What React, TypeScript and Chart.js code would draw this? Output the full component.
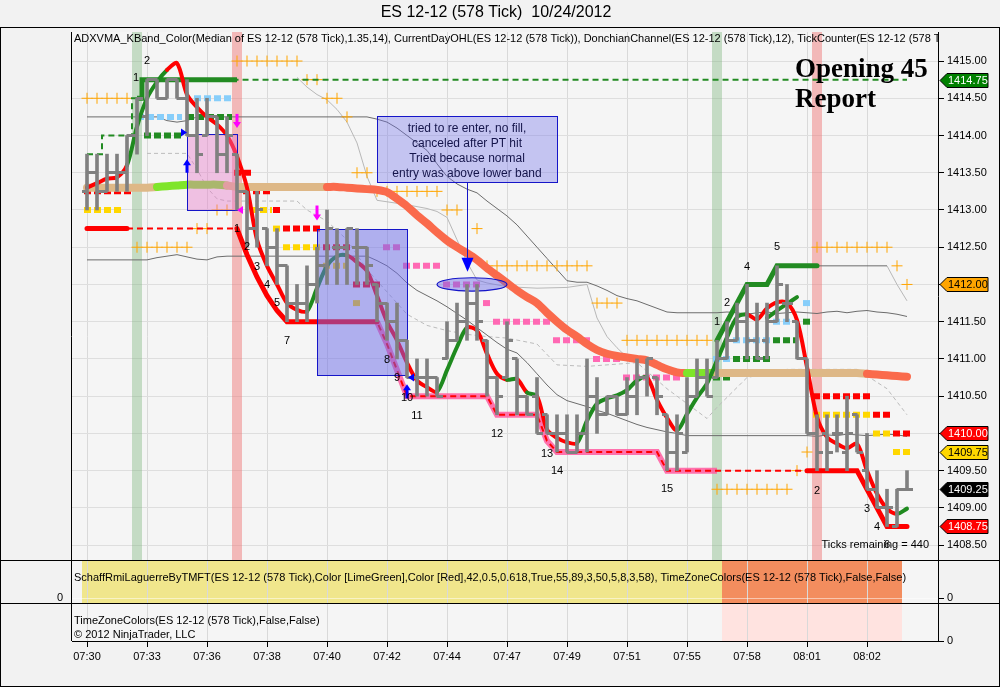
import React, { useEffect, useRef } from 'react';
import { Chart, registerables } from 'chart.js';

Chart.register(...registerables);

// ---------------- data ----------------
const TIME_LABELS = ['07:30', '07:33', '07:36', '07:38', '07:40', '07:42', '07:44', '07:47', '07:49', '07:51', '07:55', '07:58', '08:01', '08:02'];
const TIME_TICK_BARS = [0, 6, 12, 18, 24, 30, 36, 42, 48, 54, 60, 66, 72, 78];

const BAR_OPEN = [
  1413.25, 1413.5, 1413.25, 1413.5, 1413.5, 1414.0, 1414.25, 1414.75, 1414.5, 1414.75,
  1414.5, 1414.0, 1414.0, 1414.25, 1413.75, 1413.75, 1413.25, 1412.75, 1412.75, 1412.5,
  1412.25, 1411.75, 1411.75, 1412.0, 1412.25, 1412.5, 1412.5, 1412.5, 1412.5, 1412.0,
  1411.75, 1411.5, 1411.25, 1410.75, 1410.75, 1410.75, 1411.0, 1411.25, 1411.5, 1411.75,
  1411.25, 1410.75, 1410.75, 1411.0, 1410.5, 1410.5, 1410.25, 1410.0, 1410.0, 1409.75,
  1410.0, 1410.5, 1410.25, 1410.5, 1410.25, 1410.5, 1410.75, 1410.75, 1410.25, 1409.75,
  1409.75, 1410.5, 1410.75, 1410.75, 1411.0, 1411.25, 1411.5, 1411.25, 1411.25, 1411.5,
  1411.75, 1411.5, 1411.0, 1410.0, 1410.0, 1410.0, 1409.75, 1410.25, 1409.5, 1409.25,
  1409.0, 1408.75, 1409.25,
];
const BAR_HIGH = [
  1413.75, 1413.75, 1413.75, 1413.75, 1414.0, 1414.5, 1414.75, 1414.75, 1414.75, 1414.75,
  1414.75, 1414.5, 1414.5, 1414.25, 1414.25, 1413.75, 1413.25, 1413.25, 1412.75, 1412.75,
  1412.25, 1412.0, 1412.25, 1412.5, 1413.0, 1412.75, 1412.75, 1412.75, 1412.5, 1412.0,
  1411.75, 1411.75, 1411.25, 1411.0, 1411.0, 1410.75, 1411.5, 1411.75, 1412.0, 1412.0,
  1411.25, 1410.75, 1411.5, 1411.0, 1410.5, 1410.75, 1410.25, 1410.25, 1410.25, 1410.25,
  1411.0, 1410.75, 1410.5, 1410.5, 1410.75, 1411.0, 1411.0, 1410.75, 1410.25, 1410.25,
  1410.75, 1411.0, 1411.0, 1411.25, 1411.5, 1411.75, 1412.0, 1411.75, 1411.75, 1412.25,
  1412.0, 1411.5, 1411.0, 1410.25, 1410.25, 1410.25, 1410.5, 1410.25, 1410.0, 1409.5,
  1409.25, 1409.25, 1409.5,
];
const BAR_LOW = [
  1413.0, 1413.0, 1413.25, 1413.25, 1413.25, 1413.75, 1414.0, 1414.5, 1414.5, 1414.5,
  1414.0, 1413.5, 1414.0, 1413.5, 1413.5, 1413.0, 1412.5, 1412.5, 1412.25, 1412.0,
  1411.5, 1411.5, 1411.5, 1411.75, 1412.0, 1412.0, 1412.0, 1412.0, 1412.0, 1411.5,
  1411.25, 1411.0, 1410.75, 1410.5, 1410.5, 1410.5, 1411.0, 1411.25, 1411.25, 1411.25,
  1410.5, 1410.25, 1410.75, 1410.25, 1410.25, 1410.0, 1410.0, 1409.75, 1409.75, 1409.75,
  1409.75, 1410.0, 1410.25, 1410.25, 1410.25, 1410.25, 1410.5, 1410.25, 1409.5, 1409.5,
  1409.75, 1410.5, 1410.5, 1410.75, 1411.0, 1411.25, 1411.0, 1411.0, 1411.0, 1411.5,
  1411.5, 1411.0, 1410.0, 1409.5, 1409.5, 1409.75, 1409.5, 1409.75, 1409.25, 1409.0,
  1408.75, 1408.75, 1409.25,
];
const BAR_CLOSE = [
  1413.5, 1413.25, 1413.5, 1413.5, 1414.0, 1414.5, 1414.75, 1414.5, 1414.75, 1414.5,
  1414.0, 1413.75, 1414.25, 1413.75, 1414.0, 1413.25, 1412.75, 1413.0, 1412.5, 1412.25,
  1411.75, 1411.75, 1412.0, 1412.25, 1412.75, 1412.5, 1412.75, 1412.5, 1412.25, 1411.75,
  1411.5, 1411.25, 1410.75, 1410.75, 1410.75, 1410.5, 1411.25, 1411.5, 1411.75, 1411.5,
  1410.75, 1410.5, 1411.25, 1410.5, 1410.25, 1410.0, 1410.0, 1410.0, 1409.75, 1410.0,
  1410.5, 1410.25, 1410.5, 1410.25, 1410.5, 1410.75, 1411.0, 1410.5, 1409.75, 1410.0,
  1410.5, 1410.75, 1410.5, 1411.0, 1411.25, 1411.5, 1411.25, 1411.0, 1411.5, 1412.0,
  1411.75, 1411.0, 1410.0, 1409.75, 1409.75, 1410.0, 1410.0, 1409.75, 1409.25, 1409.0,
  1409.0, 1409.25, 1409.25,
];

// ADXVMA line and its direction runs (u = up/green, d = down/red)
const ADX_LINE = [
  1413.30, 1413.36, 1413.42, 1413.44, 1413.60, 1414.12, 1414.50, 1414.72, 1414.88, 1414.97,
  1414.55, 1414.38, 1414.25, 1414.15, 1414.00, 1413.72, 1413.30, 1412.60, 1412.25, 1412.00,
  1411.75, 1411.66, 1411.64, 1411.95, 1412.25, 1412.38, 1412.39, 1412.30, 1412.18, 1411.85,
  1411.50, 1411.25, 1410.95, 1410.71, 1410.62, 1410.56, 1410.85, 1411.16, 1411.42, 1411.38,
  1411.07, 1410.80, 1410.72, 1410.73, 1410.55, 1410.50, 1410.05, 1409.94, 1409.88, 1409.87,
  1410.17, 1410.40, 1410.47, 1410.51, 1410.58, 1410.71, 1410.75, 1410.45, 1410.21, 1410.04,
  1410.26, 1410.48, 1410.67, 1410.98, 1411.29, 1411.56, 1411.60, 1411.53, 1411.68, 1411.76,
  1411.75, 1411.52, 1410.89, 1410.22, 1409.95, 1409.86, 1409.80, 1409.86, 1409.50, 1409.19,
  1408.99, 1408.92, 1408.99,
];
const ADX_DIR_RUNS: [string, number][] = [
  ['d', 4], ['u', 4], ['d', 14], ['u', 4], ['d', 9], ['u', 3], ['d', 4], ['u', 1], ['d', 1], ['u', 1],
  ['d', 4], ['u', 7], ['d', 3], ['u', 7], ['d', 15], ['u', 2],
];
const ADX2_BARS = [68, 69, 70, 71];
const ADX2_LINE = [1411.55, 1411.65, 1411.74, 1411.83];

// slow moving average and its state runs (t = flat, g = rising, s = falling)
const MA_LINE = [
  1413.30, 1413.30, 1413.30, 1413.30, 1413.30, 1413.30, 1413.30, 1413.31, 1413.32, 1413.33,
  1413.34, 1413.34, 1413.34, 1413.34, 1413.33, 1413.31, 1413.31, 1413.31, 1413.31, 1413.31,
  1413.31, 1413.31, 1413.31, 1413.31, 1413.31, 1413.31, 1413.30, 1413.29, 1413.28, 1413.27,
  1413.24, 1413.15, 1413.05, 1412.93, 1412.82, 1412.70, 1412.59, 1412.50, 1412.42, 1412.33,
  1412.22, 1412.12, 1412.02, 1411.92, 1411.83, 1411.75, 1411.62, 1411.50, 1411.39, 1411.30,
  1411.20, 1411.12, 1411.07, 1411.04, 1411.02, 1411.00, 1410.98, 1410.92, 1410.86, 1410.82,
  1410.81, 1410.81, 1410.81, 1410.81, 1410.81, 1410.81, 1410.81, 1410.81, 1410.81, 1410.81,
  1410.81, 1410.81, 1410.81, 1410.81, 1410.81, 1410.81, 1410.81, 1410.81, 1410.80, 1410.79,
  1410.78, 1410.77, 1410.76,
];
const MA_STATE_RUNS: [string, number][] = [['t', 7], ['g', 7], ['t', 10], ['s', 36], ['g', 3], ['t', 15], ['s', 5]];

// Donchian channel
const DON_UPPER = [
  1414.25, 1414.25, 1414.25, 1414.25, 1414.25, 1414.25, 1414.25, 1414.25, 1414.20, 1414.18,
  1414.20, 1414.25, 1414.25, 1414.25, 1414.25, 1414.25, 1414.25, 1414.25, 1414.25, 1414.25,
  1414.25, 1414.25, 1414.25, 1414.25, 1414.25, 1414.25, 1414.25, 1414.25, 1414.25, 1414.22,
  1414.18, 1414.10, 1414.00, 1413.90, 1413.80, 1413.62, 1413.45, 1413.35, 1413.28, 1413.23,
  1413.12, 1413.02, 1412.92, 1412.80, 1412.65, 1412.50, 1412.35, 1412.20, 1412.05, 1412.03,
  1412.03, 1411.98, 1411.92, 1411.85, 1411.81, 1411.78, 1411.73, 1411.68, 1411.63, 1411.62,
  1411.62, 1411.62, 1411.62, 1411.62, 1411.63, 1411.62, 1411.60, 1411.62, 1411.63, 1411.61,
  1411.62, 1411.63, 1411.62, 1411.61, 1411.63, 1411.64, 1411.62, 1411.64, 1411.65, 1411.63,
  1411.62, 1411.60, 1411.57,
];
const DON_LOWER = [
  1412.33, 1412.33, 1412.33, 1412.33, 1412.33, 1412.33, 1412.33, 1412.36, 1412.38, 1412.40,
  1412.37, 1412.34, 1412.33, 1412.37, 1412.38, 1412.38, 1412.38, 1412.38, 1412.38, 1412.38,
  1412.38, 1412.38, 1412.38, 1412.38, 1412.38, 1412.38, 1412.38, 1412.38, 1412.38, 1412.32,
  1412.25, 1412.15, 1412.02, 1411.92, 1411.85, 1411.78, 1411.70, 1411.61, 1411.52, 1411.42,
  1411.32, 1411.22, 1411.13, 1411.08, 1410.95, 1410.80, 1410.65, 1410.52, 1410.44, 1410.40,
  1410.36, 1410.31, 1410.27, 1410.22, 1410.17, 1410.12, 1410.08, 1410.05, 1410.02, 1410.00,
  1409.97, 1409.97, 1409.97, 1409.97, 1409.97, 1409.97, 1409.97, 1409.97, 1409.97, 1409.97,
  1409.97, 1409.97, 1409.97, 1409.96, 1409.98, 1409.97, 1409.99, 1409.98, 1409.97, 1409.98,
  1409.99, 1409.98, 1409.96,
];
const DON_UPPER2_BARS = [72.5, 73, 74, 75, 76, 77, 78, 79, 80];
const DON_UPPER2 = [1412.25, 1412.25, 1412.25, 1412.25, 1412.25, 1412.25, 1412.25, 1412.25, 1412.25];

// Keltner-style bands (light grey)
const KBAND_UPPER_BARS = [21, 22, 23, 24, 25, 26, 27, 28, 29, 30, 32, 34, 35, 36, 37, 38, 39, 40, 42, 45, 48, 50, 51, 52, 53, 54];
const KBAND_UPPER = [1414.78, 1414.65, 1414.55, 1414.48, 1414.35, 1414.18, 1413.90, 1413.45, 1413.13, 1413.11, 1413.07, 1413.02, 1412.98, 1412.90, 1412.60, 1412.30, 1412.06, 1412.02, 1411.97, 1411.95, 1411.96, 1412.00, 1411.55, 1411.30, 1411.15, 1411.02];
const KBAND_LOWER_BARS = [6, 10, 11, 12, 13, 14, 21, 22, 24, 26, 28, 30, 32, 34, 36, 38, 40, 42, 45, 47, 50, 55, 58, 61, 62, 63, 66, 70, 77, 80, 82];
const KBAND_LOWER = [1413.76, 1413.76, 1413.55, 1413.30, 1413.15, 1413.12, 1413.12, 1413.00, 1412.85, 1412.60, 1412.20, 1411.90, 1411.60, 1411.45, 1411.38, 1411.33, 1411.30, 1411.28, 1411.20, 1410.92, 1410.90, 1410.95, 1410.60, 1410.30, 1410.20, 1410.35, 1410.75, 1410.86, 1410.86, 1410.60, 1410.25];
const KBAND_UPPER2_BARS = [80, 81, 82];
const KBAND_UPPER2 = [1412.25, 1412.00, 1411.78];

// current day high / low
const DAY_HIGH = [
  1413.75, 1413.75, 1414.0, 1414.0, 1414.0, 1414.5, 1414.75, 1414.75, 1414.75, 1414.75,
  1414.75, 1414.75, 1414.75, 1414.75, 1414.75, 1414.75, 1414.75, 1414.75, 1414.75, 1414.75,
  1414.75, 1414.75, 1414.75, 1414.75, 1414.75, 1414.75, 1414.75, 1414.75, 1414.75, 1414.75,
  1414.75, 1414.75, 1414.75, 1414.75, 1414.75, 1414.75, 1414.75, 1414.75, 1414.75, 1414.75,
  1414.75, 1414.75, 1414.75, 1414.75, 1414.75, 1414.75, 1414.75, 1414.75, 1414.75, 1414.75,
  1414.75, 1414.75, 1414.75, 1414.75, 1414.75, 1414.75, 1414.75, 1414.75, 1414.75, 1414.75,
  1414.75, 1414.75, 1414.75, 1414.75, 1414.75, 1414.75, 1414.75, 1414.75, 1414.75, 1414.75,
  1414.75, 1414.75, 1414.75, 1414.75, 1414.75, 1414.75, 1414.75, 1414.75, 1414.75, 1414.75,
  1414.75, 1414.75, 1414.75,
];
const DAY_LOW = [
  1412.75, 1412.75, 1412.75, 1412.75, 1412.75, 1412.75, 1412.75, 1412.75, 1412.75, 1412.75,
  1412.75, 1412.75, 1412.75, 1412.75, 1412.75, 1412.75, 1412.40, 1412.10, 1411.85, 1411.65,
  1411.5, 1411.5, 1411.5, 1411.5, 1411.5, 1411.5, 1411.5, 1411.5, 1411.5, 1411.5,
  1411.20, 1410.85, 1410.5, 1410.5, 1410.5, 1410.5, 1410.5, 1410.5, 1410.5, 1410.5,
  1410.5, 1410.25, 1410.25, 1410.25, 1410.25, 1410.25, 1409.90, 1409.75, 1409.75, 1409.75,
  1409.75, 1409.75, 1409.75, 1409.75, 1409.75, 1409.75, 1409.75, 1409.75, 1409.5, 1409.5,
  1409.5, 1409.5, 1409.5, 1409.5, 1409.5, 1409.5, 1409.5, 1409.5, 1409.5, 1409.5,
  1409.5, 1409.5, 1409.5, 1409.5, 1409.5, 1409.5, 1409.5, 1409.5, 1409.25, 1409.0,
  1408.75, 1408.75, 1408.75,
];
const SESSION_HIGH_BARS = [63, 64, 65, 66, 67, 68, 69, 70, 71, 72, 73];
const SESSION_HIGH = [1411.25, 1411.5, 1411.75, 1412.0, 1412.0, 1412.0, 1412.25, 1412.25, 1412.25, 1412.25, 1412.25];

// dashed level bars: price, from bar, to bar, kind
const DASH_PRICE = [1414.5, 1414.25, 1414.25, 1414.0, 1413.5, 1413.25, 1413.25, 1413.0, 1413.0, 1413.0, 1412.75, 1412.75, 1412.5, 1412.5, 1412.25, 1412.0, 1411.75, 1412.5, 1412.25, 1412.0, 1411.75, 1411.5, 1411.25, 1411.0, 1410.75, 1410.75, 1411.0, 1411.0, 1411.25, 1411.25, 1411.5, 1411.5, 1411.75, 1410.5, 1410.25, 1410.25, 1410.0, 1410.0, 1409.75];
const DASH_FROM = [10.7, 5.0, 10.0, 5.7, 14.7, -0.3, 15.6, -0.3, 16.3, 18.6, 18.6, 19.6, 19.6, 23.6, 23.6, 26.6, 26.6, 29.6, 31.6, 35.6, 39.6, 40.6, 46.6, 50.6, 53.6, 62.6, 62.6, 64.6, 64.6, 68.6, 68.6, 71.6, 71.6, 72.6, 72.6, 78.6, 78.6, 80.6, 80.6];
const DASH_TO = [14.5, 9.5, 14.5, 9.5, 16.5, 4.5, 18.5, 3.5, 18.5, 19.5, 19.3, 23.5, 23.5, 26.5, 26.0, 29.5, 27.5, 31.5, 35.5, 39.5, 40.5, 46.3, 50.5, 53.5, 59.6, 64.5, 64.5, 68.5, 68.5, 71.1, 70.3, 72.5, 72.5, 78.5, 78.5, 80.5, 80.5, 82.5, 82.5];
const DASH_KIND = ['B', 'B', 'G', 'G', 'R', 'R', 'R', 'Y', 'Y', 'R', 'Y', 'R', 'Y', 'R', 'Y', 'R', 'Y', 'P', 'P', 'P', 'P', 'P', 'P', 'P', 'P', 'G', 'B', 'G', 'B', 'G', 'B', 'G', 'B', 'R', 'Y', 'R', 'Y', 'R', 'Y'];

// orange target crosses: price row, first bar, last bar
const CROSS_PRICE = [1414.5, 1412.5, 1412.75, 1413.0, 1415.0, 1414.75, 1414.5, 1414.25, 1413.5, 1413.25, 1413.0, 1412.75, 1412.25, 1411.75, 1411.25, 1409.25, 1409.5, 1409.75, 1412.5, 1412.25, 1412.0];
const CROSS_FROM = [0, 5, 11, 13, 15, 22, 24, 26, 27, 29, 36, 39, 40, 51, 54, 63, 71, 72, 73, 81, 82];
const CROSS_TO = [4, 10, 12, 14, 21, 23, 25, 26, 28, 35, 37, 39, 50, 53, 62, 70, 71, 72, 80, 81, 82];

// swing count labels
const LABEL_BARS = [6, 4.9, 15, 16, 17, 18, 19, 20, 30, 31, 32, 33, 41, 46, 47, 58, 63, 64, 66, 69, 73, 78, 79, 80];
const LABEL_PRICES = [1415.0, 1414.77, 1412.75, 1412.5, 1412.24, 1411.99, 1411.75, 1411.24, 1410.99, 1410.74, 1410.48, 1410.24, 1409.99, 1409.73, 1409.49, 1409.25, 1411.49, 1411.75, 1412.24, 1412.5, 1409.23, 1408.99, 1408.74, 1408.5];
const LABEL_TEXTS = ['2', '1', '1', '2', '3', '4', '5', '7', '8', '9', '10', '11', '12', '13', '14', '15', '1', '2', '4', '5', '2', '3', '4', '6'];

// price tags on the right axis
const TAG_PRICES = [1414.75, 1412.0, 1410.0, 1409.75, 1409.25, 1408.75];
const TAG_KIND = ['green', 'orange', 'red', 'gold', 'black', 'red'];

// time-zone shading (bar centre) and session split bars for lower panels
const ZONE_BARS = [5, 15, 63, 73];
const ZONE_KIND = ['open', 'close', 'open', 'close'];
const SESSION_SPLITS = [-0.5, 63.5, 81.5];

// drawn objects: [from bar, to bar, top price, bottom price]
const PINK_BOX = [10, 15, 1414.02, 1413.0];
const BLUE_BOX = [23, 32, 1412.74, 1410.78];
const NOTE_BOX = [29, 47, 1414.26, 1413.37];
const NOTE_LINES = ['tried to re enter, no fill,', 'canceled after PT hit', 'Tried because normal', 'entry was above lower band'];
const NOTE_ARROW = [38, 1413.37, 1412.17];
const ELLIPSE = [38.5, 1412.0, 3.5, 0.09];

// entry / exit arrows
const ARROW_BARS = [10, 32, 15, 23];
const ARROW_FROM = [1413.5, 1410.47, 1414.29, 1413.06];
const ARROW_TO = [1413.68, 1410.66, 1414.1, 1412.86];
const ARROW_KIND = ['blue', 'blue', 'magenta', 'magenta'];
const MARK_BARS = [9.7, 32.4, 15.3];
const MARK_PRICES = [1414.04, 1410.75, 1413.0];
const MARK_DIR = ['right', 'left', 'left'];
const MARK_KIND = ['blue', 'blue', 'magenta'];

const PRICE_MIN = 1408.30;
const PRICE_MAX = 1415.39;

// ---------------- styles ----------------
const SANS = "'Liberation Sans', Arial, sans-serif";
const SERIF = "'Liberation Serif', 'Times New Roman', serif";
const DASH_COLORS: Record<string, string> = { B: '#87cefa', G: '#228b22', R: '#ff0000', Y: '#ffd700', P: '#ff69b4' };
const MA_COLORS: Record<string, string> = { t: '#deb887', g: '#7fe52a', s: '#fa6a4c' };
const TAG_COLORS: Record<string, [string, string]> = {
  green: ['#008000', '#ffffff'], orange: ['#ffa500', '#000000'], red: ['#ff0000', '#ffffff'],
  gold: ['#ffd700', '#000000'], black: ['#000000', '#ffffff'],
};
const MARK_COLORS: Record<string, string> = { blue: '#0000ff', magenta: '#ff00ff' };

function expandRuns(list: [string, number][]): string[] {
  const out: string[] = [];
  list.forEach(([c, n]) => { for (let k = 0; k < n; k++) out.push(c); });
  return out;
}
const ADX_DIR = expandRuns(ADX_DIR_RUNS);
const MA_STATE = expandRuns(MA_STATE_RUNS);

function pick(values: number[], ranges: number[][]) {
  return values.map((v, i) => ({ x: i, y: ranges.some(([a, b]) => i >= a && i <= b) ? v : null }));
}
function series(values: number[]) {
  return values.map((v, i) => ({ x: i, y: v }));
}
function pairs(bars: number[], values: number[]) {
  return bars.map((b, k) => ({ x: b, y: values[k] }));
}
function tickImage(side: 'left' | 'right') {
  const c = document.createElement('canvas');
  c.width = 11; c.height = 3;
  const g = c.getContext('2d')!;
  g.fillStyle = '#808080';
  if (side === 'left') g.fillRect(0, 0, 6, 3); else g.fillRect(5, 0, 6, 3);
  return c;
}
const isHalf = (v: number) => Math.abs(v * 2 - Math.round(v * 2)) < 1e-6;

function buildDatasets() {
  const ds: any[] = [];
  const line = (extra: any) => ({
    type: 'line', pointRadius: 0, borderWidth: 1, fill: false, tension: 0, spanGaps: false,
    xAxisID: 'x', yAxisID: 'y', ...extra,
  });
  ds.push(line({ label: 'kband-upper', data: pairs(KBAND_UPPER_BARS, KBAND_UPPER), borderColor: '#b8b8b8', order: 100 }));
  ds.push(line({ label: 'kband-upper2', data: pairs(KBAND_UPPER2_BARS, KBAND_UPPER2), borderColor: '#b8b8b8', order: 100 }));
  ds.push(line({ label: 'kband-lower', data: pairs(KBAND_LOWER_BARS, KBAND_LOWER), borderColor: '#bcbcbc', borderDash: [4, 3], order: 100 }));
  ds.push(line({ label: 'donchian-upper', data: series(DON_UPPER), borderColor: '#6c6c6c', order: 95 }));
  ds.push(line({ label: 'donchian-lower', data: series(DON_LOWER), borderColor: '#6c6c6c', order: 95 }));
  ds.push(line({ label: 'donchian-upper2', data: pairs(DON_UPPER2_BARS, DON_UPPER2), borderColor: '#6c6c6c', order: 95 }));

  const crossPts: any[] = [];
  CROSS_PRICE.forEach((p, r) => { for (let b = CROSS_FROM[r]; b <= CROSS_TO[r]; b++) crossPts.push({ x: b, y: p }); });
  ds.push(line({
    label: 'targets', data: crossPts, showLine: false, pointStyle: 'cross', pointRadius: 5.5,
    pointBorderWidth: 1, pointBorderColor: '#ffa500', pointBackgroundColor: '#ffa500', order: 90,
  }));

  DASH_PRICE.forEach((p, k) => {
    ds.push(line({
      label: 'level', data: [{ x: DASH_FROM[k], y: p }, { x: DASH_TO[k], y: p }],
      borderColor: DASH_COLORS[DASH_KIND[k]], borderWidth: 6, borderDash: [7, 3], borderCapStyle: 'butt', order: 85,
    }));
  });

  ds.push(line({
    label: 'ma', data: series(MA_LINE), borderWidth: 8, borderCapStyle: 'round', borderJoinStyle: 'round',
    tension: 0.3, borderColor: MA_COLORS.t, segment: { borderColor: (c: any) => MA_COLORS[MA_STATE[c.p0DataIndex]] }, order: 80,
  }));

  ds.push(line({ label: 'day-high-dash', data: series(DAY_HIGH), stepped: 'middle', borderColor: '#228b22', borderWidth: 2, borderDash: [6, 4], order: 75 }));
  ds.push(line({ label: 'day-high', data: pick(DAY_HIGH, [[5, 15]]), stepped: 'middle', borderColor: '#228b22', borderWidth: 5, order: 74 }));
  ds.push(line({ label: 'day-low-pink', data: pick(DAY_LOW, [[29, 63]]), borderColor: 'rgba(255,90,160,0.85)', borderWidth: 6, order: 73 }));
  ds.push(line({ label: 'day-low-dash', data: series(DAY_LOW), borderColor: '#ff0000', borderWidth: 2, borderDash: [6, 4], order: 72 }));
  ds.push(line({ label: 'day-low', data: pick(DAY_LOW, [[0, 4], [15, 29], [72, 82]]), borderColor: '#ff0000', borderWidth: 5, borderCapStyle: 'round', order: 71 }));
  ds.push(line({ label: 'session-high', data: pairs(SESSION_HIGH_BARS, SESSION_HIGH), borderColor: '#228b22', borderWidth: 5, borderCapStyle: 'round', order: 70 }));

  ds.push(line({
    label: 'adxvma', data: series(ADX_LINE), borderWidth: 4, borderCapStyle: 'round', borderJoinStyle: 'round',
    tension: 0.3, borderColor: '#ff0000',
    segment: { borderColor: (c: any) => (ADX_DIR[c.p0DataIndex] === 'u' ? '#1f8a1f' : '#ff0000') }, order: 65,
  }));
  ds.push(line({ label: 'adxvma-up', data: pairs(ADX2_BARS, ADX2_LINE), borderWidth: 4, borderCapStyle: 'round', tension: 0.3, borderColor: '#1f8a1f', order: 64 }));

  ds.push({
    type: 'bar', label: 'ohlc', xAxisID: 'x', yAxisID: 'y',
    data: BAR_HIGH.map((h, i) => ({ x: i, y: [BAR_LOW[i], h] })),
    backgroundColor: '#808080', borderWidth: 0, barThickness: 3, grouped: false, order: 10,
  });
  ds.push(line({ label: 'open', data: series(BAR_OPEN), showLine: false, pointRadius: 3, pointStyle: tickImage('left'), order: 9 }));
  ds.push(line({ label: 'close', data: series(BAR_CLOSE), showLine: false, pointRadius: 3, pointStyle: tickImage('right'), order: 8 }));
  return ds;
}

function drawObjects(chart: any) {
  const { ctx } = chart;
  const x = chart.scales.x;
  const y = chart.scales.y;
  const rect = (b: number[], fill: string) => {
    const x0 = x.getPixelForValue(b[0]); const x1 = x.getPixelForValue(b[1]);
    const y0 = y.getPixelForValue(b[2]); const y1 = y.getPixelForValue(b[3]);
    ctx.fillStyle = fill;
    ctx.fillRect(x0, y0, x1 - x0, y1 - y0);
    ctx.strokeStyle = '#1515c8'; ctx.lineWidth = 1;
    ctx.strokeRect(Math.round(x0) + 0.5, Math.round(y0) + 0.5, Math.round(x1 - x0), Math.round(y1 - y0));
    return [x0, y0, x1, y1];
  };
  ctx.save();
  rect(PINK_BOX, 'rgba(232,120,200,0.42)');
  rect(BLUE_BOX, 'rgba(105,105,232,0.5)');
  // ellipse
  const cx = x.getPixelForValue(ELLIPSE[0]); const cy = y.getPixelForValue(ELLIPSE[1]);
  const rx = x.getPixelForValue(ELLIPSE[0] + ELLIPSE[2]) - cx;
  const ry = y.getPixelForValue(ELLIPSE[1] - ELLIPSE[3]) - cy;
  ctx.beginPath(); ctx.ellipse(cx, cy, rx, ry, 0, 0, Math.PI * 2);
  ctx.fillStyle = 'rgba(105,105,232,0.45)'; ctx.fill();
  ctx.strokeStyle = '#1515c8'; ctx.lineWidth = 1.2; ctx.stroke();
  // note box
  const nb = rect(NOTE_BOX, 'rgba(110,110,236,0.36)');
  ctx.fillStyle = '#14144a';
  ctx.font = `12px ${SANS}`; ctx.textAlign = 'center'; ctx.textBaseline = 'middle';
  const mid = (nb[0] + nb[2]) / 2;
  NOTE_LINES.forEach((t, k) => ctx.fillText(t, mid, nb[1] + 13 + k * 15));
  // note arrow
  const ax = Math.round(x.getPixelForValue(NOTE_ARROW[0])) + 0.5;
  const ay0 = y.getPixelForValue(NOTE_ARROW[1]); const ay1 = y.getPixelForValue(NOTE_ARROW[2]);
  ctx.strokeStyle = '#1515c8'; ctx.lineWidth = 1;
  ctx.beginPath(); ctx.moveTo(ax, ay0); ctx.lineTo(ax, ay1 - 12); ctx.stroke();
  ctx.fillStyle = '#0000ff';
  ctx.beginPath(); ctx.moveTo(ax - 6, ay1 - 14); ctx.lineTo(ax + 6, ay1 - 14); ctx.lineTo(ax, ay1); ctx.closePath(); ctx.fill();
  ctx.restore();
}

function drawMarks(chart: any) {
  const { ctx } = chart;
  const x = chart.scales.x;
  const y = chart.scales.y;
  ctx.save();
  ARROW_BARS.forEach((b, k) => {
    const px = x.getPixelForValue(b);
    const p0 = y.getPixelForValue(ARROW_FROM[k]);
    const p1 = y.getPixelForValue(ARROW_TO[k]);
    const dir = p1 < p0 ? -1 : 1;
    ctx.fillStyle = MARK_COLORS[ARROW_KIND[k]];
    ctx.fillRect(px - 1.5, Math.min(p0, p1 - dir * 5), 3, Math.abs(p1 - dir * 5 - p0));
    ctx.beginPath();
    ctx.moveTo(px - 4, p1 - dir * 6); ctx.lineTo(px + 4, p1 - dir * 6); ctx.lineTo(px, p1); ctx.closePath(); ctx.fill();
  });
  MARK_BARS.forEach((b, k) => {
    const px = x.getPixelForValue(b);
    const py = y.getPixelForValue(MARK_PRICES[k]);
    const d = MARK_DIR[k] === 'right' ? 1 : -1;
    ctx.fillStyle = MARK_COLORS[MARK_KIND[k]];
    ctx.beginPath(); ctx.moveTo(px - d * 3, py - 4); ctx.lineTo(px + d * 3, py); ctx.lineTo(px - d * 3, py + 4); ctx.closePath(); ctx.fill();
  });
  ctx.fillStyle = '#000';
  ctx.font = `11px ${SANS}`; ctx.textAlign = 'center'; ctx.textBaseline = 'middle';
  LABEL_BARS.forEach((b, k) => ctx.fillText(LABEL_TEXTS[k], x.getPixelForValue(b), y.getPixelForValue(LABEL_PRICES[k])));
  ctx.restore();
}

const ninjaPlugin = {
  id: 'ninja',
  beforeDraw(chart: any) {
    const { ctx, chartArea: a } = chart;
    const x = chart.scales.x; const y2 = chart.scales.y2; const y3 = chart.scales.y3;
    ctx.save();
    ctx.fillStyle = '#f2f2f2'; ctx.fillRect(0, 0, chart.width, chart.height);
    ctx.fillStyle = '#f5f5f5'; ctx.fillRect(a.left, a.top, a.right - a.left, a.bottom - a.top);
    const s0 = x.getPixelForValue(SESSION_SPLITS[0]);
    const s1 = x.getPixelForValue(SESSION_SPLITS[1]);
    const s2 = x.getPixelForValue(SESSION_SPLITS[2]);
    ctx.fillStyle = '#f0e68c'; ctx.fillRect(s0, y2.top, s1 - s0, y2.bottom - y2.top);
    ctx.fillStyle = '#f38d5e'; ctx.fillRect(s1, y2.top, s2 - s1, y2.bottom - y2.top);
    ctx.fillStyle = '#ffe3e0'; ctx.fillRect(s1, y3.top, s2 - s1, y3.bottom - y3.top);
    ctx.restore();
  },
  beforeDatasetsDraw(chart: any) {
    const { ctx } = chart;
    const x = chart.scales.x; const y = chart.scales.y;
    ctx.save();
    ZONE_BARS.forEach((b, k) => {
      const x0 = x.getPixelForValue(b - 0.5); const x1 = x.getPixelForValue(b + 0.5);
      ctx.fillStyle = ZONE_KIND[k] === 'open' ? 'rgba(110,175,110,0.36)' : 'rgba(240,110,110,0.45)';
      ctx.fillRect(x0, y.top, x1 - x0, y.bottom - y.top);
    });
    ctx.restore();
  },
  beforeDatasetDraw(chart: any, args: any) {
    if (chart.data.datasets[args.index].label === 'ohlc') drawObjects(chart);
  },
  afterDatasetsDraw(chart: any) {
    drawMarks(chart);
    const { ctx } = chart;
    ctx.save();
    ctx.fillStyle = '#000';
    ctx.font = `bold 27px ${SERIF}`; ctx.textAlign = 'left'; ctx.textBaseline = 'alphabetic';
    ctx.fillText('Opening 45', 795, 77);
    ctx.fillText('Report', 795, 107);
    ctx.font = `11px ${SANS}`; ctx.textAlign = 'right'; ctx.textBaseline = 'middle';
    ctx.fillText('Ticks remaining = 440', 929, 545);
    ctx.restore();
  },
  afterDraw(chart: any) {
    const { ctx, chartArea: a } = chart;
    const y = chart.scales.y; const y2 = chart.scales.y2;
    ctx.save();
    // indicator captions
    ctx.fillStyle = '#000'; ctx.font = `11px ${SANS}`; ctx.textAlign = 'left'; ctx.textBaseline = 'middle';
    ctx.save();
    ctx.beginPath(); ctx.rect(a.left, a.top, a.right - a.left, a.bottom - a.top); ctx.clip();
    ctx.fillText('ADXVMA_KBand_Color(Median of ES 12-12 (578 Tick),1.35,14), CurrentDayOHL(ES 12-12 (578 Tick)), DonchianChannel(ES 12-12 (578 Tick),12), TickCounter(ES 12-12 (578 Tick),True,False)', a.left + 2, a.top + 7);
    ctx.fillText('SchaffRmiLaguerreByTMFT(ES 12-12 (578 Tick),Color [LimeGreen],Color [Red],42,0.5,0.618,True,55,89,3,50,5,8,3,58), TimeZoneColors(ES 12-12 (578 Tick),False,False)', a.left + 2, y2.top + 18);
    ctx.fillText('TimeZoneColors(ES 12-12 (578 Tick),False,False)', a.left + 2, chart.scales.y3.top + 18);
    ctx.fillText('\u00a9 2012 NinjaTrader, LLC', a.left + 2, chart.scales.y3.top + 32);
    ctx.restore();
    ctx.textAlign = 'right';
    ctx.fillText('0', a.left - 9, y2.getPixelForValue(0));
    // title
    ctx.font = `16px ${SANS}`; ctx.textAlign = 'center';
    ctx.fillText('ES 12-12 (578 Tick)  10/24/2012', 496, 13);
    // frame
    ctx.strokeStyle = '#000'; ctx.lineWidth = 1;
    ctx.beginPath();
    ctx.moveTo(0, 27.5); ctx.lineTo(chart.width, 27.5);
    ctx.moveTo(0.5, 27); ctx.lineTo(0.5, chart.height);
    ctx.moveTo(chart.width - 0.5, 27); ctx.lineTo(chart.width - 0.5, chart.height);
    ctx.moveTo(0, chart.height - 0.5); ctx.lineTo(chart.width, chart.height - 0.5);
    ctx.moveTo(0, Math.round(y2.top) + 0.5); ctx.lineTo(chart.width, Math.round(y2.top) + 0.5);
    ctx.moveTo(0, Math.round(y2.bottom) + 0.5); ctx.lineTo(chart.width, Math.round(y2.bottom) + 0.5);
    ctx.moveTo(a.left - 0.5, a.top); ctx.lineTo(a.left - 0.5, a.bottom);
    ctx.stroke();
    // price tags
    ctx.font = `11px ${SANS}`; ctx.textAlign = 'left'; ctx.textBaseline = 'middle';
    const left = y.left;
    TAG_PRICES.forEach((p, k) => {
      const py = Math.round(y.getPixelForValue(p)) + 0.5;
      const [bg, fg] = TAG_COLORS[TAG_KIND[k]];
      ctx.beginPath();
      ctx.moveTo(left + 2, py); ctx.lineTo(left + 9, py - 7); ctx.lineTo(left + 50, py - 7);
      ctx.lineTo(left + 50, py + 7); ctx.lineTo(left + 9, py + 7); ctx.closePath();
      ctx.fillStyle = bg; ctx.fill();
      ctx.strokeStyle = '#000'; ctx.stroke();
      ctx.fillStyle = fg;
      ctx.fillText(p.toFixed(2), left + 10, py);
    });
    ctx.restore();
  },
};

export default function App() {
  const ref = useRef<HTMLCanvasElement | null>(null);
  useEffect(() => {
    document.body.style.margin = '0';
    document.body.style.background = '#f2f2f2';
    const canvas = ref.current!;
    const priceTicks: number[] = [];
    for (let v = 1408.5; v <= 1415.25 + 1e-9; v += 0.25) priceTicks.push(Math.round(v * 100) / 100);
    const chart = new Chart(canvas, {
      type: 'line',
      data: { datasets: buildDatasets() },
      plugins: [ninjaPlugin],
      options: {
        responsive: false,
        animation: false,
        events: [],
        layout: { padding: { left: 72, top: 32, right: 0, bottom: 0 } },
        plugins: { legend: { display: false }, tooltip: { enabled: false }, title: { display: false } },
        scales: {
          x: {
            type: 'linear', min: -1.5, max: 85.1, offset: false,
            afterBuildTicks: (s: any) => { s.ticks = TIME_TICK_BARS.map((v) => ({ value: v })); },
            afterFit: (s: any) => { s.height = 46; },
            ticks: {
              autoSkip: false, maxRotation: 0, padding: 3, color: '#000', font: { family: SANS, size: 11 },
              callback: (v: any) => { const k = TIME_TICK_BARS.indexOf(v); return k >= 0 ? TIME_LABELS[k] : ''; },
            },
            grid: { color: '#d9d9d9', tickLength: 6, tickColor: '#000', offset: false },
            border: { color: '#000' },
          },
          y: {
            type: 'linear', position: 'right', stack: 'panels', stackWeight: 528, min: PRICE_MIN, max: PRICE_MAX,
            afterBuildTicks: (s: any) => { s.ticks = priceTicks.map((v) => ({ value: v })); },
            afterFit: (s: any) => { s.width = 62; },
            ticks: { padding: 3, color: '#000', font: { family: SANS, size: 11 }, callback: (v: any) => (isHalf(v) ? Number(v).toFixed(2) : '') },
            grid: { color: '#dedede', tickLength: 6, tickColor: (c: any) => (c.tick && isHalf(c.tick.value) ? '#000' : 'rgba(0,0,0,0)') },
            border: { color: '#000' },
          },
          y2: {
            type: 'linear', position: 'right', stack: 'panels', stackWeight: 43, min: -0.12, max: 1,
            afterBuildTicks: (s: any) => { s.ticks = [{ value: 0 }]; },
            afterFit: (s: any) => { s.width = 62; },
            ticks: { padding: 3, color: '#000', font: { family: SANS, size: 11 }, callback: () => '0' },
            grid: { color: 'rgba(255,255,255,0.5)', tickLength: 6, tickColor: '#000' },
            border: { color: '#000' },
          },
          y3: {
            type: 'linear', position: 'right', stack: 'panels', stackWeight: 38, min: 0, max: 1,
            afterBuildTicks: (s: any) => { s.ticks = [{ value: 0 }]; },
            afterFit: (s: any) => { s.width = 62; },
            ticks: { padding: 3, color: '#000', font: { family: SANS, size: 11 }, callback: () => '0' },
            grid: { color: '#d9d9d9', tickLength: 6, tickColor: '#000' },
            border: { color: '#000' },
          },
        },
      } as any,
    } as any);
    return () => chart.destroy();
  }, []);
  return (
    <div style={{ position: 'relative', width: 1000, height: 687 }}>
      <canvas ref={ref} width={1000} height={687} />
    </div>
  );
}
